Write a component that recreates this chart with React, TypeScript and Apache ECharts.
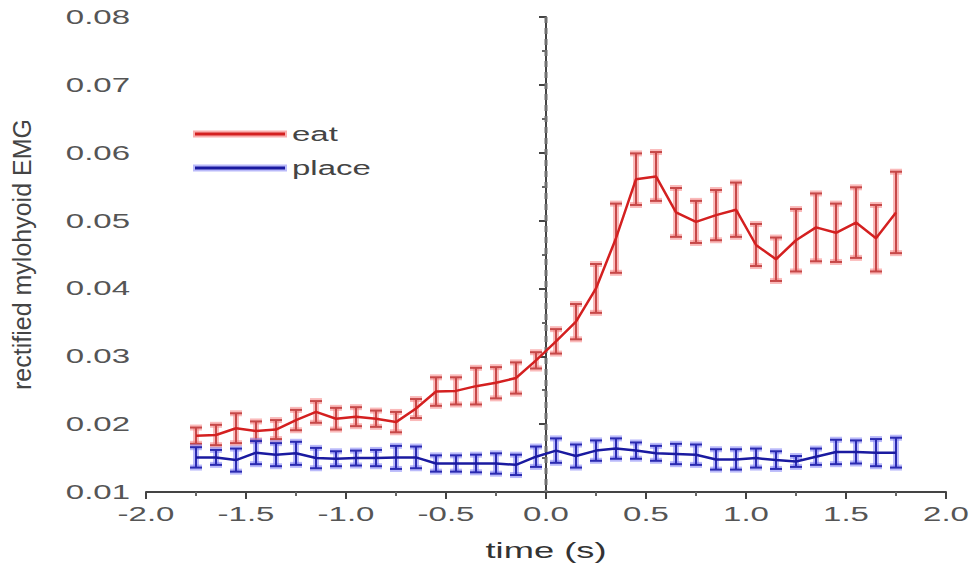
import React, { useEffect, useRef } from "react";
import * as echarts from "echarts";

const times = [
  -1.75, -1.65, -1.55, -1.45, -1.35, -1.25, -1.15, -1.05, -0.95, -0.85, -0.75, -0.65,
  -0.55, -0.45, -0.35, -0.25, -0.15, -0.05, 0.05, 0.15, 0.25, 0.35, 0.45, 0.55,
  0.65, 0.75, 0.85, 0.95, 1.05, 1.15, 1.25, 1.35, 1.45, 1.55, 1.65, 1.75,
];

const eatMean = [
  0.0183, 0.0184, 0.0194, 0.019, 0.0192, 0.0206, 0.0218, 0.0208, 0.0211, 0.0208, 0.0203, 0.0223,
  0.0248, 0.0249, 0.0256, 0.0261, 0.0268, 0.0294, 0.0322, 0.0351, 0.04, 0.0474, 0.0561, 0.0565,
  0.0512, 0.0498, 0.0508, 0.0516, 0.0464, 0.0443, 0.0471, 0.049, 0.0482, 0.0497, 0.0474, 0.0512,
];
const eatErr = [
  0.0012, 0.0015, 0.0022, 0.0014, 0.0014, 0.0015, 0.0016, 0.0016, 0.0014, 0.0012, 0.0015, 0.0014,
  0.0021, 0.002, 0.0027, 0.0023, 0.0023, 0.0012, 0.0018, 0.0026, 0.0036, 0.0051, 0.0038, 0.0036,
  0.0036, 0.0031, 0.0037, 0.004, 0.0031, 0.0032, 0.0046, 0.005, 0.0043, 0.0052, 0.0049, 0.006,
];
const placeMean = [
  0.0151, 0.0151, 0.0147, 0.0158, 0.0155, 0.0157, 0.015, 0.0149, 0.015, 0.015, 0.0151, 0.0151,
  0.0142, 0.0142, 0.0142, 0.0142, 0.014, 0.0152, 0.0161, 0.0153, 0.0161, 0.0164, 0.0161, 0.0157,
  0.0156, 0.0155, 0.0148, 0.0148, 0.015, 0.0147, 0.0145, 0.0152, 0.0159, 0.0159, 0.0158, 0.0158,
];
const placeErr = [
  0.0015, 0.0011, 0.0017, 0.0017, 0.0017, 0.0017, 0.0015, 0.0011, 0.0011, 0.0012, 0.0017, 0.0016,
  0.0012, 0.0012, 0.0013, 0.0015, 0.0015, 0.0015, 0.0018, 0.0017, 0.0015, 0.0015, 0.0012, 0.0011,
  0.0015, 0.0015, 0.0015, 0.0015, 0.0014, 0.0013, 0.0008, 0.0012, 0.0018, 0.0017, 0.002, 0.0022,
];

const xTicks = [-2.0, -1.5, -1.0, -0.5, 0.0, 0.5, 1.0, 1.5, 2.0];
const yTicks = [0.01, 0.02, 0.03, 0.04, 0.05, 0.06, 0.07, 0.08];
const seriesNames = ["eat", "place"];
const xTitle = "time (s)";
const yTitle = "rectified mylohyoid EMG";
const eventTime = 0;

const FONT = "Liberation Sans, Arial, sans-serif";
const STRETCH = 1.65;
const RED = "#d42020";
const BLUE = "#1a1aa0";

function errorSeries(name: string, means: number[], errs: number[], light: string, dark: string) {
  const data = times.map((t, i) => [t, means[i] - errs[i], means[i] + errs[i]]);
  return {
    type: "custom",
    name: name + "-err",
    data,
    z: 3,
    renderItem: (params: any, api: any) => {
      const x = api.value(0);
      const lo = api.coord([x, api.value(1)]);
      const hi = api.coord([x, api.value(2)]);
      const cap = 6;
      const segs = [
        [lo[0], lo[1], hi[0], hi[1]],
        [lo[0] - cap, lo[1], lo[0] + cap, lo[1]],
        [hi[0] - cap, hi[1], hi[0] + cap, hi[1]],
      ];
      const children: any[] = [];
      segs.forEach((s) => {
        children.push({
          type: "line",
          shape: { x1: s[0], y1: s[1], x2: s[2], y2: s[3] },
          style: { stroke: light, lineWidth: 6 },
        });
      });
      segs.forEach((s) => {
        children.push({
          type: "line",
          shape: { x1: s[0], y1: s[1], x2: s[2], y2: s[3] },
          style: { stroke: dark, lineWidth: 2 },
        });
      });
      return { type: "group", children };
    },
  };
}

function stretchedText(text: string, x: number, y: number, size: number, align: string, vAlign: string, color: string) {
  return {
    type: "text",
    x,
    y,
    scaleX: STRETCH,
    silent: true,
    style: {
      text,
      x: 0,
      y: 0,
      align,
      verticalAlign: vAlign,
      fill: color,
      font: `${size}px ${FONT}`,
    },
  };
}

export default function App() {
  const ref = useRef<HTMLDivElement>(null);
  useEffect(() => {
    if (!ref.current) return;
    const chart = echarts.init(ref.current, undefined, { renderer: "svg" });
    chart.setOption({
      animation: false,
      backgroundColor: "#fff",
      grid: { left: 146, right: 26, top: 17, bottom: 75 },
      xAxis: {
        type: "value",
        min: -2,
        max: 2,
        interval: 0.5,
        axisLine: { show: true, onZero: false, lineStyle: { color: "#444", width: 2 } },
        axisTick: { show: true, length: 7, lineStyle: { color: "#444", width: 2 } },
        minorTick: { show: true, splitNumber: 2, length: 4, lineStyle: { color: "#666", width: 2 } },
        splitLine: { show: false },
        axisLabel: { show: false },
      },
      yAxis: {
        type: "value",
        min: 0.01,
        max: 0.08,
        interval: 0.01,
        name: yTitle,
        nameLocation: "middle",
        nameGap: 112,
        nameTextStyle: { color: "#444", fontSize: 25, fontFamily: FONT },
        axisLine: { show: true, lineStyle: { color: "#444", width: 2 } },
        axisTick: { show: true, length: 7, lineStyle: { color: "#444", width: 2 } },
        minorTick: { show: true, splitNumber: 2, length: 4, lineStyle: { color: "#666", width: 2 } },
        splitLine: { show: false },
        axisLabel: { show: false },
      },
      series: [
        errorSeries("eat", eatMean, eatErr, "rgba(245,130,130,0.55)", "#c64848"),
        errorSeries("place", placeMean, placeErr, "rgba(130,130,245,0.55)", "#2a2ab0"),
        {
          type: "line",
          name: seriesNames[0],
          data: times.map((t, i) => [t, eatMean[i]]),
          symbol: "none",
          z: 4,
          lineStyle: { color: RED, width: 2.5 },
        },
        {
          type: "line",
          name: seriesNames[1],
          data: times.map((t, i) => [t, placeMean[i]]),
          symbol: "none",
          z: 4,
          lineStyle: { color: BLUE, width: 2.5 },
        },
      ],
    });

    const graphics: any[] = [];
    const y0 = yTicks[0];
    const yTop = yTicks[yTicks.length - 1];
    const x0 = xTicks[0];

    // dashed event line at t = 0
    const pBot = chart.convertToPixel({ xAxisIndex: 0, yAxisIndex: 0 }, [eventTime, y0]) as number[];
    const pTop = chart.convertToPixel({ xAxisIndex: 0, yAxisIndex: 0 }, [eventTime, yTop]) as number[];
    graphics.push({
      type: "line",
      silent: true,
      z: 1,
      shape: { x1: pTop[0], y1: pTop[1], x2: pBot[0], y2: pBot[1] },
      style: { stroke: "#707070", lineWidth: 3, lineDash: [6, 5] },
    });

    xTicks.forEach((v) => {
      const p = chart.convertToPixel({ xAxisIndex: 0, yAxisIndex: 0 }, [v, y0]) as number[];
      graphics.push(stretchedText(v.toFixed(1), p[0], p[1] + 12, 20, "center", "top", "#555"));
    });
    yTicks.forEach((v) => {
      const p = chart.convertToPixel({ xAxisIndex: 0, yAxisIndex: 0 }, [x0, v]) as number[];
      graphics.push(stretchedText(v.toFixed(2), p[0] - 16, p[1], 20, "right", "middle", "#555"));
    });
    graphics.push(stretchedText(xTitle, pBot[0], pBot[1] + 47, 22, "center", "top", "#333"));

    // legend
    const legendColors = [RED, BLUE];
    const halo = ["rgba(245,120,120,0.6)", "rgba(140,140,245,0.6)"];
    seriesNames.forEach((name, i) => {
      const ly = 134 + i * 34;
      graphics.push({
        type: "line",
        silent: true,
        shape: { x1: 193, y1: ly, x2: 287, y2: ly },
        style: { stroke: halo[i], lineWidth: 7 },
      });
      graphics.push({
        type: "line",
        silent: true,
        shape: { x1: 195, y1: ly, x2: 285, y2: ly },
        style: { stroke: legendColors[i], lineWidth: 3 },
      });
      graphics.push(stretchedText(name, 292, ly, 20, "left", "middle", "#444"));
    });

    chart.setOption({ graphic: graphics });
    return () => chart.dispose();
  }, []);
  return <div ref={ref} style={{ width: 972, height: 567, position: "absolute", left: 0, top: 0 }} />;
}
